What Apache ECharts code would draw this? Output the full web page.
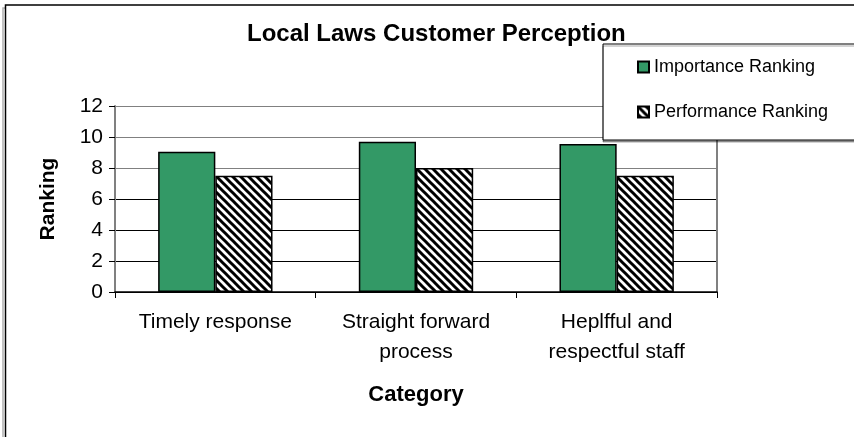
<!DOCTYPE html>
<html>
<head>
<meta charset="utf-8">
<script src="https://cdn.jsdelivr.net/npm/echarts@6/dist/echarts.min.js"></script>
<style>
html,body{margin:0;padding:0;background:#fff;}
#main{width:854px;height:437px;}
</style>
</head>
<body>
<div id="main"></div>
<script>
var categories = ['Timely response', 'Straight forward\nprocess', 'Heplfful and\nrespectful staff'];
var importanceRanking = [9.05, 9.7, 9.55];
var performanceRanking = [7.5, 8.0, 7.5];
var yTicks = [0, 2, 4, 6, 8, 10, 12];

function makeHatch() {
  var s = 8;
  var c = document.createElement('canvas');
  c.width = s; c.height = s;
  var g = c.getContext('2d');
  g.fillStyle = '#fff';
  g.fillRect(0, 0, s, s);
  g.strokeStyle = '#000';
  g.lineWidth = 3;
  [-s, 0, s].forEach(function (k) {
    g.beginPath();
    g.moveTo(-2, -2 + k);
    g.lineTo(s + 2, s + 2 + k);
    g.stroke();
  });
  return c;
}
var hatch = makeHatch();

var chart = echarts.init(document.getElementById('main'));
var font = '"Liberation Sans", Arial, sans-serif';
chart.setOption({
  animation: false,
  backgroundColor: '#fff',
  textStyle: { fontFamily: font },
  title: {
    text: 'Local Laws Customer Perception',
    left: 247,
    top: 22,
    padding: 0,
    textStyle: { fontSize: 24, fontWeight: 'bold', color: '#000', fontFamily: font }
  },
  graphic: [
    { type: 'rect', z: -10, shape: { x: 3, y: 8, width: 900, height: 500 }, style: { fill: 'none', stroke: '#b0b0b0', lineWidth: 1.5 } },
    { type: 'rect', z: -9, shape: { x: 5.5, y: 5, width: 900, height: 500 }, style: { fill: '#fff', stroke: '#000', lineWidth: 1.5 } }
  ],
  legend: {
    orient: 'vertical',
    left: 603,
    top: 44,
    padding: [14, 60, 19, 34],
    backgroundColor: '#fff',
    borderColor: '#000',
    borderWidth: 1,
    shadowColor: 'rgba(0,0,0,0.35)',
    shadowOffsetX: 0,
    shadowOffsetY: 2,
    shadowBlur: 0,
    itemWidth: 11,
    itemHeight: 11,
    itemGap: 27,
    icon: 'rect',
    textStyle: { fontSize: 18, lineHeight: 18, color: '#000', fontFamily: font },
    data: ['Importance Ranking', 'Performance Ranking']
  },
  grid: { left: 115, right: 137, top: 106, bottom: 145 },
  xAxis: {
    type: 'category',
    data: categories,
    name: 'Category',
    nameLocation: 'middle',
    nameGap: 92,
    nameTextStyle: { fontSize: 22, fontWeight: 'bold', color: '#000', fontFamily: font },
    axisLine: { lineStyle: { color: '#000', width: 1.5 } },
    axisTick: { show: true, alignWithLabel: false, length: 6, lineStyle: { color: '#000' } },
    axisLabel: { fontSize: 21, lineHeight: 30, margin: 15, color: '#000', fontFamily: font, interval: 0 }
  },
  yAxis: [{
    type: 'value',
    min: 0, max: 12, interval: 2,
    name: 'Ranking',
    nameLocation: 'middle',
    nameGap: 56,
    nameTextStyle: { fontSize: 21, fontWeight: 'bold', color: '#000', fontFamily: font },
    axisLine: { show: true, lineStyle: { color: '#808080', width: 2 } },
    axisTick: { show: true, length: 6, lineStyle: { color: '#000' } },
    axisLabel: { fontSize: 21, margin: 12, color: '#000', fontFamily: font,
      formatter: function (v) { return yTicks.indexOf(v) >= 0 ? String(v) : ''; } },
    splitLine: { show: true, lineStyle: { color: ['#000', '#000', '#000', '#000', '#808080', '#808080', '#808080'], width: 1.2 } }
  }, {
    type: 'value',
    position: 'right',
    min: 0, max: 12, interval: 2,
    axisLine: { show: true, lineStyle: { color: '#808080', width: 2 } },
    axisTick: { show: false },
    axisLabel: { show: false },
    splitLine: { show: false }
  }],
  series: [{
    name: 'Importance Ranking',
    type: 'bar',
    data: importanceRanking,
    barGap: '0%',
    barCategoryGap: '43%',
    itemStyle: { color: '#339966', borderColor: '#000', borderWidth: 1.5 }
  }, {
    name: 'Performance Ranking',
    type: 'bar',
    data: performanceRanking,
    itemStyle: { color: { image: hatch, repeat: 'repeat' }, borderColor: '#000', borderWidth: 1.5 }
  }]
});
</script>
</body>
</html>
